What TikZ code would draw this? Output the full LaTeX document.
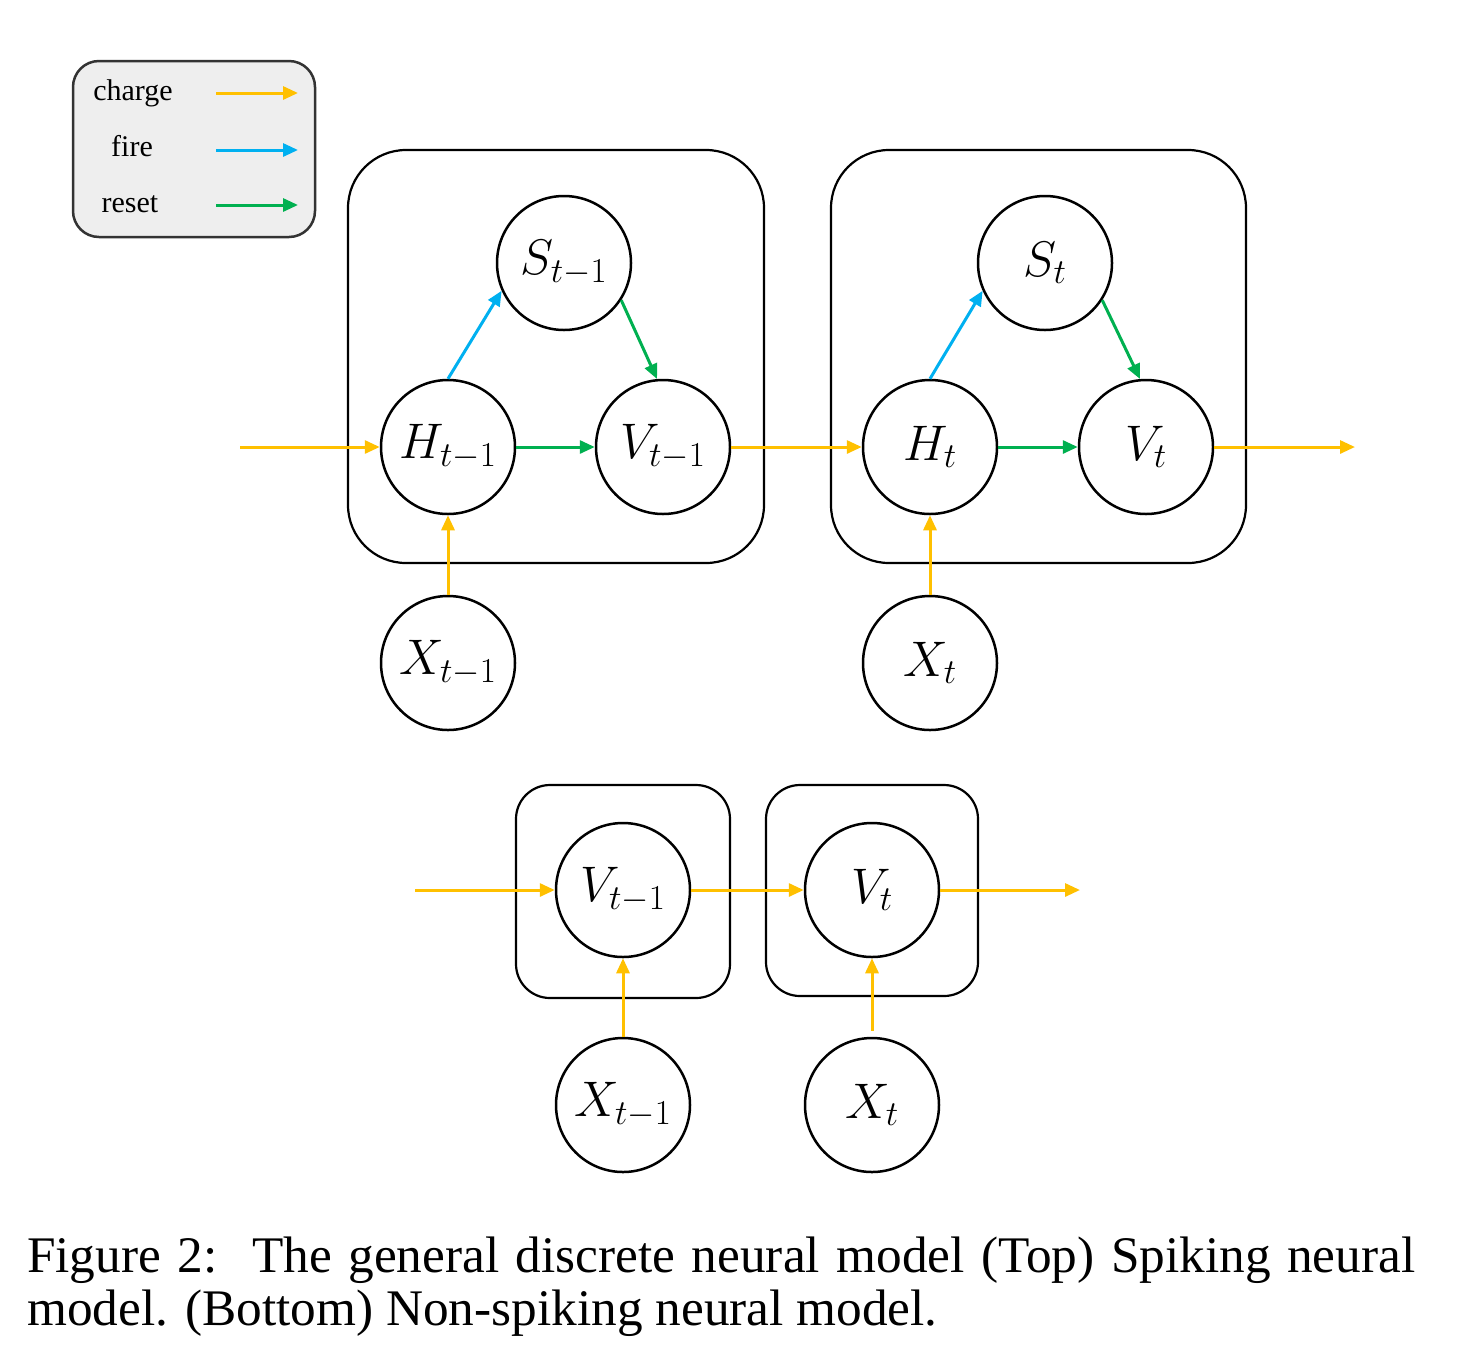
\RequirePackage{fix-cm}
\documentclass[tikz,border=0pt]{standalone}
\usepackage{fontspec}
\setmainfont{Liberation Serif}
\usetikzlibrary{arrows.meta}
\definecolor{chg}{HTML}{FFC000}
\definecolor{fir}{HTML}{00B0F0}
\definecolor{rst}{HTML}{00B050}
\definecolor{legfill}{HTML}{EEEEEE}
\definecolor{legdraw}{HTML}{333333}
\tikzset{
  unit/.style={circle, draw=black, line width=2.5pt, minimum size=134pt, inner sep=0pt, fill=white,
    font=\fontsize{50}{50}\selectfont},
  bigbox/.style={draw=black, line width=2.2pt, rounded corners=58pt, inner sep=0pt},
  smallbox/.style={draw=black, line width=2.2pt, rounded corners=34pt, inner sep=0pt},
  legbox/.style={draw=legdraw, fill=legfill, line width=2.5pt, rounded corners=26pt, inner sep=0pt},
  legtext/.style={anchor=base, font=\fontsize{30}{30}\selectfont, inner sep=0pt},
  arr/.style={line width=3pt, -{Triangle[length=15pt,width=13pt]}},
  charge/.style={arr, draw=chg},
  fire/.style={arr, draw=fir},
  reset/.style={arr, draw=rst},
  captext/.style={anchor=base west, inner sep=0pt, font=\fontsize{51.3}{53}\selectfont}
}
\begin{document}
\begin{tikzpicture}[x=1pt,y=-1pt]
\useasboundingbox (0,0) rectangle (1459,1353);
% legend
\node[legbox, minimum width=242pt, minimum height=176pt] (leg) at (194,149) {};
\node[legtext] (lc) at (133,100) {charge};
\node[legtext] (lf) at (132,156) {fire};
\node[legtext] (lr) at (130,212) {reset};
\coordinate (lc1) at (216,93); \coordinate (lc2) at (298,93);
\coordinate (lf1) at (216,150); \coordinate (lf2) at (298,150);
\coordinate (lr1) at (216,205); \coordinate (lr2) at (298,205);
\draw[charge] (lc1) -- (lc2);
\draw[fire] (lf1) -- (lf2);
\draw[reset] (lr1) -- (lr2);
% top boxes
\node[bigbox, minimum width=416pt, minimum height=413pt] (B1) at (556,356.5) {};
\node[bigbox, minimum width=415pt, minimum height=413pt] (B2) at (1038.5,356.5) {};
% top nodes
\node[unit] (S1) at (564,263) {$S_{t-1}$};
\node[unit] (H1) at (448,447) {$H_{t-1}$};
\node[unit] (V1) at (663,447) {$V_{t-1}$};
\node[unit] (X1) at (448,663) {$X_{t-1}$};
\node[unit] (S2) at (1045,263) {$S_{t}$};
\node[unit] (H2) at (930,447) {$H_{t}$};
\node[unit] (V2) at (1146,447) {$V_{t}$};
\node[unit] (X2) at (930,663) {$X_{t}$};
\coordinate (tin) at (240,447);
\coordinate (tout) at (1355,447);
\draw[charge] (tin) -- (H1.west);
\draw[charge] (V1.east) -- (H2.west);
\draw[charge] (V2.east) -- (tout);
\draw[charge] (X1.north) -- (H1.south);
\draw[charge] (X2.north) -- (H2.south);
\draw[fire] (H1.north) -- (S1.204);
\draw[fire] (H2.north) -- (S2.204);
\draw[reset] (S1.-33) -- (V1.95);
\draw[reset] (S2.-33) -- (V2.95);
\draw[reset] (H1.east) -- (V1.west);
\draw[reset] (H2.east) -- (V2.west);
% bottom
\node[smallbox, minimum width=214pt, minimum height=213pt] (b1) at (623,891.5) {};
\node[smallbox, minimum width=212pt, minimum height=211pt] (b2) at (872,890.5) {};
\node[unit] (bV1) at (623,890) {$V_{t-1}$};
\node[unit] (bV2) at (872,890) {$V_{t}$};
\node[unit] (bX1) at (623,1105) {$X_{t-1}$};
\node[unit] (bX2) at (872,1105) {$X_{t}$};
\coordinate (bin) at (415,890);
\coordinate (bout) at (1080,890);
\draw[charge] (bin) -- (bV1.west);
\draw[charge] (bV1.east) -- (bV2.west);
\draw[charge] (bV2.east) -- (bout);
\draw[charge] (bX1.north) -- (bV1.south);
\draw[charge, shorten <=6pt] (bX2.north) -- (bV2.south);
% caption
\node[captext] (cap1) at (27,1272) {\makebox[1388pt][s]{Figure 2:\hspace{0.2em} The general discrete neural model (Top) Spiking neural}};
\node[captext] (cap2) at (27,1325) {model. (Bottom) Non-spiking neural model.};
\end{tikzpicture}
\end{document}
